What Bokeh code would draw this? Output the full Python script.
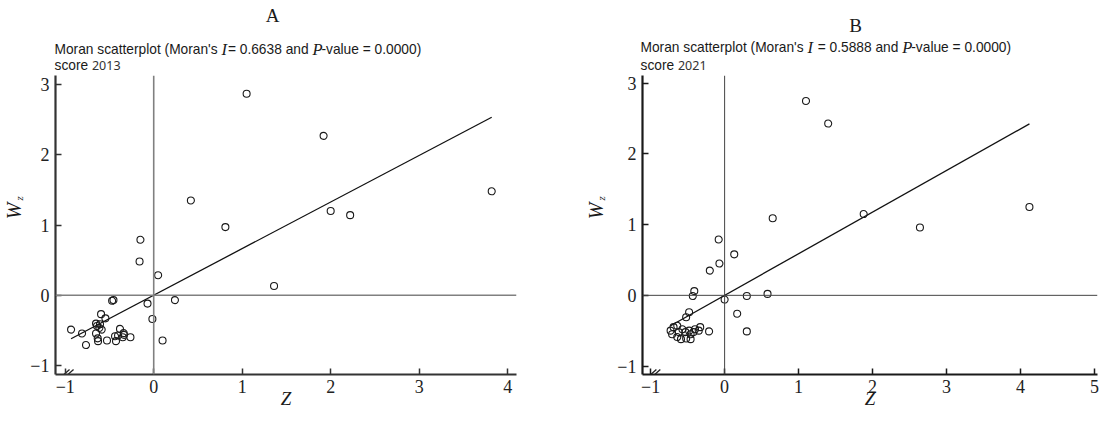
from bokeh.plotting import figure
from bokeh.models import Span, FixedTicker, Range1d, CustomJSTickFormatter
from bokeh.layouts import row, column
from bokeh.core.properties import value
from bokeh.embed import file_html
from bokeh.resources import INLINE

# ---------------- data ----------------
panel_names = ["A", "B"]
years = ["2013", "2021"]
moran_i = [0.6638, 0.5888]
p_values = [0.0, 0.0]

z_2013 = [1.05, 1.92, 3.82, 0.42, 0.81, 2.00, 2.22, -0.15, -0.16, 0.05, 1.36,
          -0.47, -0.455, -0.07, 0.24, -0.015, 0.10,
          -0.595, -0.546, -0.934, -0.81, -0.765, -0.652, -0.641, -0.614, -0.588,
          -0.652, -0.633, -0.629, -0.528, -0.437, -0.426, -0.381, -0.403, -0.339,
          -0.336, -0.35, -0.263, -0.607]
wz_2013 = [2.87, 2.27, 1.48, 1.35, 0.97, 1.20, 1.14, 0.79, 0.48, 0.285, 0.13,
           -0.08, -0.07, -0.12, -0.07, -0.34, -0.645,
           -0.27, -0.33, -0.49, -0.545, -0.71, -0.405, -0.44, -0.465, -0.49,
           -0.545, -0.615, -0.655, -0.645, -0.585, -0.655, -0.48, -0.575, -0.54,
           -0.565, -0.6, -0.6, -0.415]

z_2021 = [1.10, 1.40, 4.12, 1.88, 2.64, 0.65, -0.08, 0.13, -0.07, -0.20, -0.41,
          -0.43, 0.00, 0.30, 0.58, 0.17, 0.30, -0.21, -0.48, -0.52,
          -0.73, -0.69, -0.64, -0.71, -0.62, -0.57, -0.59, -0.53, -0.48, -0.46,
          -0.42, -0.40, -0.35, -0.33, -0.46, -0.52, -0.64]
wz_2021 = [2.75, 2.43, 1.25, 1.15, 0.96, 1.09, 0.79, 0.58, 0.45, 0.35, 0.06,
           -0.01, -0.06, -0.01, 0.02, -0.26, -0.51, -0.51, -0.24, -0.31,
           -0.50, -0.45, -0.43, -0.55, -0.52, -0.48, -0.62, -0.52, -0.50, -0.55,
           -0.52, -0.48, -0.50, -0.45, -0.62, -0.61, -0.59]

x_ticks = [[-1, 0, 1, 2, 3, 4], [-1, 0, 1, 2, 3, 4, 5]]
y_ticks = [-1, 0, 1, 2, 3]

# ---------------- helpers ----------------
SANS = {' ': 278, 'M': 833, 'o': 556, 'r': 333, 'a': 556, 'n': 556, 's': 500,
        'c': 500, 't': 278, 'e': 556, 'p': 556, 'l': 222, '(': 333, ')': 333,
        "'": 191, '=': 584, '.': 278, 'd': 556, '-': 333, 'v': 500, 'u': 556}
for ch in "0123456789":
    SANS[ch] = 556
SERIF_IT = {'I': 333, 'P': 611}


def width(s, size, table):
    return sum(table.get(c, 556) for c in s) * size / 1000.0


SANS_SIZE = 13.75
IT_SIZE = 16.5
FONT_SANS = "Liberation Sans"
FONT_SERIF = "Liberation Serif"
INK = "#1a1a1a"

HEAD_H = 73
MAIN_H = 338


def blank(w, h):
    f = figure(width=w, height=h, x_range=Range1d(0, w), y_range=Range1d(0, h),
               output_backend="svg", toolbar_location=None, title=None,
               x_axis_location=None, y_axis_location=None,
               min_border_left=0, min_border_right=0, min_border_top=0, min_border_bottom=0)
    f.outline_line_color = None
    f.grid.visible = False
    f.background_fill_color = "white"
    f.border_fill_color = "white"
    return f


def txt(f, x, y, s, font, size, style="normal", align="left", baseline="alphabetic",
        angle=0.0, color=INK):
    f.text(x=[x], y=[y], text=[s], text_font=value(font), text_font_size=value(size),
           text_font_style=style, text_align=align, text_baseline=baseline,
           angle=angle, text_color=color)


def make_header(k, w, lay):
    h = blank(w, HEAD_H)
    txt(h, lay["letter_x"], HEAD_H - lay["letter_top"], panel_names[k], FONT_SERIF, "19px",
        align="center")
    sep = "=" if k == 0 else " ="
    pieces = [("Moran scatterplot (Moran's ", "sans", 0.0), ("I", "it", 1.0),
              (f"{sep} {moran_i[k]:.4f} and ", "sans", 0.0), ("P", "it", -1.0),
              (f"-value = {p_values[k]:.4f})", "sans", 0.0)]
    x = lay["title_x"]
    y = HEAD_H - lay["title_top"]
    for s, kind, extra in pieces:
        if kind == "sans":
            lead = len(s) - len(s.lstrip(" "))
            x += width(" " * lead, SANS_SIZE, SANS)
            s = s.lstrip(" ")
            txt(h, x, y, s, FONT_SANS, f"{SANS_SIZE}px")
            x += width(s, SANS_SIZE, SANS) + extra
        else:
            txt(h, x, y, s, FONT_SERIF, f"{IT_SIZE}px", style="italic")
            x += width(s, IT_SIZE, SERIF_IT) + extra
    ys = HEAD_H - lay["sub_top"]
    txt(h, lay["title_x"], ys, "score", FONT_SANS, f"{SANS_SIZE}px")
    txt(h, lay["title_x"] + width("score ", SANS_SIZE, SANS), ys, years[k], "Noto Sans",
        "12.5px", color="#333333")
    return h


def make_strip(w, lay):
    s = blank(w, MAIN_H)
    txt(s, lay["wx"], MAIN_H - lay["w_top"], "W", FONT_SERIF, "20px", style="italic",
        align="center", baseline="middle", angle=1.5708)
    txt(s, lay["wx"] + 5, MAIN_H - lay["w_top"] + 14, "z", FONT_SERIF, "11px", style="italic",
        align="center", baseline="middle", angle=1.5708)
    return s


def make_main(k, z, wz, w, border_l, border_r, xr, yr, lay):
    p = figure(width=w, height=MAIN_H, x_range=Range1d(*xr), y_range=Range1d(*yr),
               output_backend="svg", toolbar_location=None, title=None,
               min_border_left=border_l, min_border_right=border_r,
               min_border_top=2, min_border_bottom=0)
    p.outline_line_color = None
    p.grid.visible = False
    p.background_fill_color = "white"
    p.border_fill_color = "white"

    fmt = CustomJSTickFormatter(code="return tick < 0 ? '\u2212' + Math.abs(tick) : tick.toString();")
    axcol = lay["axcol"]
    for ax, ticks, st in ((p.xaxis, x_ticks[k], 5), (p.yaxis, y_ticks, 6)):
        ax.ticker = FixedTicker(ticks=ticks)
        ax.formatter = fmt
        ax.major_tick_in = 6
        ax.major_tick_out = 0
        ax.minor_tick_line_color = None
        ax.axis_line_width = 2.2
        ax.axis_line_color = axcol
        ax.major_tick_line_color = axcol
        ax.major_tick_line_width = 1.5
        ax.major_label_text_font = FONT_SERIF
        ax.major_label_text_font_size = "18px"
        ax.major_label_text_color = "#222222"
        ax.major_label_standoff = st

    p.xaxis.axis_label = "Z"
    p.xaxis.axis_label_text_font = FONT_SERIF
    p.xaxis.axis_label_text_font_style = "italic"
    p.xaxis.axis_label_text_font_size = "19px"
    p.xaxis.axis_label_text_color = INK
    p.xaxis.axis_label_standoff = -8

    p.add_layout(Span(location=0, dimension="height", line_color=lay["zcol"], line_width=lay["zw"]))
    p.add_layout(Span(location=0, dimension="width", line_color=lay["zcol"], line_width=lay["zw"]))

    x0, x1 = min(z), max(z)
    p.line([x0, x1], [moran_i[k] * x0, moran_i[k] * x1], line_color="#111111", line_width=1.3)

    p.scatter(z, wz, marker="circle", size=7, fill_color=None, line_color=INK, line_width=1.1)

    # axis-break mark at the lower-left corner
    dx = (xr[1] - xr[0]) / 460.0
    dy = (yr[1] - yr[0]) / 294.0
    bx = xr[0] + 5 * dx
    p.segment(x0=[bx, bx + 4 * dx], y0=[yr[0] - 3 * dy] * 2,
              x1=[bx + 9 * dx, bx + 13 * dx], y1=[yr[0] + 5 * dy] * 2,
              line_color="#222222", line_width=1.3)
    return p


layA = dict(axcol="#333333", zcol="#808080", zw=1.6, letter_x=272, letter_top=14.7,
            title_x=54, title_top=48.7, sub_top=65, wx=13, w_top=153)
layB = dict(axcol="#1a1a1a", zcol="#444444", zw=1.0, letter_x=308, letter_top=24.7,
            title_x=93, title_top=47, sub_top=64.5, wx=48, w_top=153)

WA, WB = 547, 553
SA, SB = 26, 66

headA = make_header(0, WA, layA)
stripA = make_strip(SA, layA)
mainA = make_main(0, z_2013, wz_2013, WA - SA, 29, 31, (-1.11, 4.10), (-1.13, 3.13), layA)

headB = make_header(1, WB, layB)
stripB = make_strip(SB, layB)
mainB = make_main(1, z_2021, wz_2021, WB - SB, 29, 3, (-1.11, 5.04), (-1.12, 3.11), layB)

layout = row(column(headA, row(stripA, mainA)), column(headB, row(stripB, mainB)))
open("out.html", "w").write(file_html(layout, INLINE))
